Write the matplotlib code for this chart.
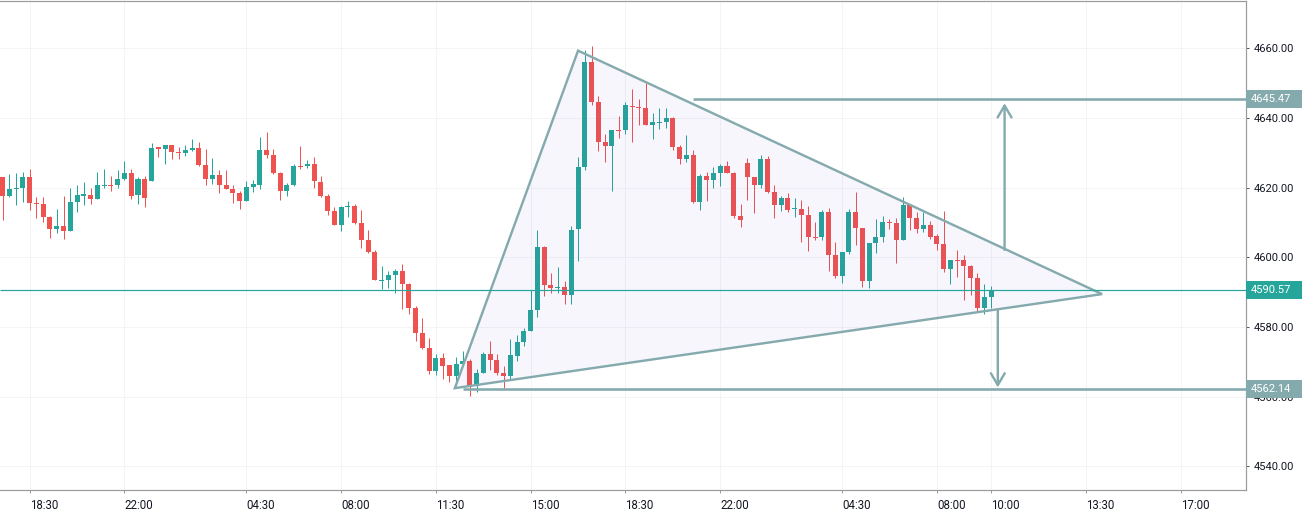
import numpy as np
import matplotlib
matplotlib.use("Agg")
import matplotlib.pyplot as plt
from matplotlib.patches import Polygon, Rectangle

plt.rcParams['font.family'] = ['Roboto', 'DejaVu Sans']

# 15 min candles
opens = [4623.0, 4617.6, 4619.7, 4619.9, 4623.0, 4615.5, 4615.3, 4611.5, 4608.1, 4609.0,
         4607.5, 4615.9, 4617.7, 4617.9, 4616.7, 4620.4, 4620.7, 4620.7, 4622.5, 4624.2,
         4617.9, 4622.5, 4621.9, 4631.4, 4631.1, 4632.2, 4630.2, 4629.9, 4630.8, 4631.4,
         4626.5, 4622.5, 4623.6, 4620.7, 4619.6, 4618.4, 4616.1, 4620.2, 4620.7, 4630.8,
         4629.4, 4624.2, 4619.0, 4620.7, 4626.2, 4626.2, 4626.8, 4621.6, 4617.6, 4613.3,
         4609.2, 4614.5, 4614.7, 4609.8, 4604.9, 4601.5, 4593.2, 4593.4, 4594.9, 4596.0,
         4592.3, 4585.4, 4578.2, 4573.9, 4567.3, 4571.0, 4569.0, 4565.9, 4569.3, 4570.2,
         4563.0, 4566.7, 4572.2, 4570.5, 4566.7, 4565.9, 4571.6, 4575.6, 4578.8, 4584.8,
         4602.9, 4592.0, 4591.2, 4591.4, 4589.1, 4608.1, 4625.9, 4656.1, 4644.6, 4633.1,
         4631.9, 4636.5, 4636.5, 4643.4, 4643.1, 4642.8, 4638.0, 4638.6, 4638.8, 4640.0,
         4631.6, 4628.2, 4629.3, 4615.8, 4623.3, 4622.2, 4624.2, 4626.2, 4624.2, 4611.8,
         4627.0, 4623.0, 4620.7, 4628.2, 4618.7, 4615.0, 4617.0, 4613.7, 4613.8, 4612.1,
         4605.8, 4605.8, 4613.0, 4600.6, 4594.6, 4601.5, 4613.0, 4608.4, 4593.2, 4604.1,
         4605.8, 4610.1, 4609.8, 4604.9, 4615.0, 4611.3, 4608.1, 4609.2, 4606.1, 4603.8,
         4596.6, 4599.2, 4599.2, 4597.5, 4594.0, 4585.4, 4588.6]
highs = [4623.0, 4623.9, 4624.2, 4624.5, 4625.3, 4617.3, 4617.3, 4611.8, 4613.8, 4617.6,
         4619.9, 4620.7, 4621.6, 4619.9, 4624.5, 4625.3, 4623.3, 4625.0, 4627.6, 4625.3,
         4623.0, 4623.3, 4632.8, 4631.4, 4632.2, 4632.2, 4631.7, 4632.2, 4634.0, 4633.1,
         4631.1, 4628.5, 4625.0, 4625.0, 4620.7, 4619.0, 4621.9, 4622.2, 4634.5, 4636.0,
         4631.1, 4624.5, 4621.3, 4626.8, 4631.9, 4627.9, 4628.8, 4623.3, 4618.1, 4614.4,
         4614.7, 4616.1, 4615.3, 4613.5, 4607.8, 4602.1, 4597.5, 4596.0, 4596.6, 4598.0,
         4592.6, 4586.0, 4582.5, 4576.8, 4572.2, 4572.5, 4569.0, 4571.3, 4573.0, 4570.7,
         4567.9, 4572.8, 4575.9, 4572.2, 4568.7, 4576.5, 4577.6, 4579.6, 4590.6, 4607.8,
         4603.2, 4595.4, 4597.2, 4593.1, 4608.9, 4628.8, 4659.5, 4660.6, 4646.3, 4635.4,
         4636.5, 4640.6, 4644.6, 4648.3, 4645.4, 4650.0, 4641.4, 4642.8, 4642.8, 4640.3,
         4632.2, 4635.1, 4630.8, 4623.9, 4624.5, 4625.9, 4626.8, 4627.6, 4624.5, 4615.3,
         4628.5, 4623.0, 4629.3, 4629.1, 4620.7, 4617.6, 4618.4, 4617.0, 4616.4, 4614.7,
         4610.1, 4613.6, 4614.1, 4604.4, 4601.5, 4613.8, 4618.7, 4608.4, 4604.1, 4611.0,
         4611.8, 4611.0, 4611.3, 4617.3, 4615.3, 4613.0, 4613.0, 4610.4, 4606.7, 4613.3,
         4599.2, 4602.1, 4600.6, 4597.8, 4595.5, 4592.3, 4591.7]
lows = [4610.7, 4617.3, 4615.0, 4615.9, 4613.6, 4611.3, 4610.1, 4605.5, 4606.9, 4605.2,
        4607.5, 4613.0, 4615.0, 4615.3, 4616.7, 4619.9, 4619.0, 4619.9, 4622.2, 4616.7,
        4615.3, 4614.4, 4621.9, 4628.8, 4626.8, 4628.2, 4628.2, 4629.1, 4630.5, 4626.2,
        4620.7, 4621.0, 4618.4, 4619.6, 4615.6, 4613.8, 4616.1, 4618.7, 4619.6, 4628.5,
        4623.9, 4616.4, 4617.6, 4620.4, 4625.3, 4625.6, 4619.9, 4617.3, 4612.1, 4609.2,
        4607.5, 4611.5, 4609.5, 4602.6, 4601.2, 4593.4, 4590.9, 4591.1, 4589.7, 4585.1,
        4583.7, 4575.9, 4573.6, 4566.4, 4566.1, 4565.0, 4564.1, 4564.4, 4568.7, 4560.1,
        4561.3, 4566.7, 4567.6, 4566.1, 4562.4, 4565.0, 4570.2, 4574.5, 4578.8, 4582.8,
        4588.8, 4589.7, 4589.7, 4586.5, 4586.5, 4598.9, 4625.0, 4643.7, 4630.5, 4627.3,
        4619.0, 4634.2, 4635.4, 4633.1, 4638.0, 4638.0, 4633.9, 4636.8, 4637.1, 4630.8,
        4626.8, 4627.3, 4615.6, 4613.5, 4616.1, 4619.9, 4620.4, 4624.2, 4611.2, 4608.7,
        4616.4, 4612.7, 4619.9, 4618.4, 4611.3, 4613.3, 4613.0, 4611.5, 4604.4, 4601.8,
        4604.9, 4604.9, 4596.0, 4594.0, 4592.6, 4600.9, 4603.5, 4591.4, 4591.1, 4601.2,
        4604.4, 4608.1, 4598.3, 4604.9, 4607.8, 4606.9, 4607.2, 4605.2, 4602.1, 4595.7,
        4592.3, 4594.3, 4587.7, 4589.1, 4584.5, 4583.7, 4585.4]
closes = [4617.6, 4619.6, 4619.8, 4623.0, 4615.6, 4615.4, 4611.5, 4608.1, 4609.0, 4607.5,
          4615.9, 4617.9, 4617.9, 4616.7, 4620.7, 4620.7, 4620.4, 4622.5, 4624.2, 4617.6,
          4622.5, 4617.0, 4631.4, 4631.2, 4632.2, 4630.2, 4629.9, 4630.8, 4631.4, 4626.5,
          4622.5, 4623.6, 4620.7, 4619.6, 4618.4, 4616.1, 4620.2, 4621.0, 4630.8, 4629.4,
          4624.2, 4619.0, 4620.7, 4626.2, 4625.9, 4626.8, 4621.9, 4617.6, 4613.3, 4609.2,
          4614.4, 4614.6, 4609.8, 4604.9, 4601.5, 4593.4, 4593.3, 4594.9, 4596.0, 4592.3,
          4585.4, 4578.2, 4573.9, 4567.3, 4571.0, 4568.7, 4565.9, 4569.3, 4570.2, 4563.0,
          4566.7, 4572.2, 4570.5, 4566.7, 4565.9, 4571.9, 4575.6, 4578.8, 4584.8, 4602.9,
          4592.0, 4591.1, 4591.4, 4589.1, 4607.8, 4625.9, 4656.1, 4644.6, 4633.1, 4631.9,
          4636.5, 4636.2, 4643.7, 4643.1, 4642.9, 4638.0, 4638.8, 4638.8, 4640.0, 4631.6,
          4628.2, 4629.3, 4615.8, 4623.3, 4622.2, 4624.2, 4626.2, 4624.2, 4611.8, 4610.7,
          4623.0, 4620.7, 4628.2, 4618.7, 4615.0, 4617.0, 4613.6, 4613.8, 4612.1, 4605.8,
          4605.5, 4613.0, 4600.6, 4594.6, 4601.5, 4613.0, 4608.4, 4593.2, 4604.1, 4605.8,
          4610.1, 4609.8, 4604.9, 4615.0, 4611.3, 4608.1, 4609.2, 4605.8, 4603.8, 4596.6,
          4599.2, 4598.9, 4597.5, 4594.0, 4585.4, 4588.6, 4590.6]

time_ticks = [4, 18, 36, 50, 64, 78, 92, 106, 124, 138, 146, 160, 174]
time_labels = ['18:30', '22:00', '04:30', '08:00', '11:30', '15:00', '18:30',
               '22:00', '04:30', '08:00', '10:00', '13:30', '17:00']
price_ticks = [4540, 4560, 4580, 4600, 4620, 4640, 4660]

# drawings on top of the candles
triangle = [(66.8, 4562.4), (85.0, 4659.3), (162.4, 4589.4)]
target_up = 4645.47
target_down = 4562.14
last_price = 4590.57
target_up_start = 102
target_down_start = 68
arrow_up = (148, 4602.1, 4644.2)
arrow_down = (147, 4585.0, 4562.6)

GREEN = '#26a69a'
RED = '#ef5350'
SLATE = '#85aaae'
GRID = '#f4f4f6'
AXIS = '#9b9b9b'
px = 72 / 100  # points per pixel at dpi 100

fig = plt.figure(figsize=(13.02, 5.13), dpi=100)
ax = fig.add_axes([0, 23.5 / 513, 1246 / 1302, 489 / 513])
ax.set_xlim(-0.384, 183.66)
ax.set_ylim(4533.3, 4673.7)

o = np.array(opens)
h = np.array(highs)
l = np.array(lows)
c = np.array(closes)
x = np.arange(len(o))
colors = [GREEN if up else RED for up in c >= o]

ax.vlines(x, l, h, colors=colors, lw=1 * px, zorder=2)
tops = np.maximum(o, c)
bottoms = np.minimum(o, c)
ax.bar(x, np.maximum(tops - bottoms, 0.3), bottom=bottoms, width=0.74, color=colors,
       linewidth=0, zorder=3)

# pattern fill goes over the candles, that is why they look washed out inside
ax.add_patch(Polygon(triangle, closed=True, facecolor='#5b50c8', alpha=0.05,
                     edgecolor='none', zorder=4))
ax.add_patch(Polygon(triangle, closed=True, fill=False, edgecolor=SLATE, lw=2.4 * px,
                     joinstyle='miter', zorder=5))

ax.hlines(last_price, -0.384, 183.66, colors=GREEN, lw=1.2 * px, zorder=5)
ax.hlines(target_up, target_up_start, 183.66, colors=SLATE, lw=2.6 * px, zorder=5)
ax.hlines(target_down, target_down_start, 183.66, colors=SLATE, lw=2.6 * px, zorder=5)

for ax_x, y0, y1 in (arrow_up, arrow_down):
    ax.annotate('', xy=(ax_x, y1), xytext=(ax_x, y0),
                arrowprops=dict(arrowstyle='->,head_length=0.85,head_width=0.5',
                                mutation_scale=10, color=SLATE, lw=2.4 * px,
                                shrinkA=0, shrinkB=0), zorder=6)

ax.set_xticks(time_ticks)
ax.set_xticklabels(time_labels, ha='left')
ax.set_yticks(price_ticks)
ax.set_yticklabels(['%.2f' % p for p in price_ticks])
ax.yaxis.tick_right()
ax.grid(True, color=GRID, lw=1 * px, zorder=0)
ax.set_axisbelow(True)
ax.tick_params(axis='x', length=3 * px, width=1 * px, color=AXIS, labelsize=8.3,
               labelcolor='#131722', pad=4.5)
ax.tick_params(axis='y', length=3 * px, width=1 * px, color='#555555', labelsize=8,
               labelcolor='#131722', pad=3.5)

ax.spines['left'].set_visible(False)
for side in ('top', 'right', 'bottom'):
    ax.spines[side].set_color(AXIS)
    ax.spines[side].set_linewidth(1.2 * px)

# price labels on the scale
for price, col in ((target_up, SLATE), (last_price, GREEN), (target_down, SLATE)):
    ax.add_patch(Rectangle((1, price - 2.6), 56 / 1246, 5.2, transform=ax.get_yaxis_transform(),
                           facecolor=col, edgecolor='none', clip_on=False, zorder=10))
    ax.annotate('%.2f' % price, xy=(1, price), xycoords=ax.get_yaxis_transform(),
                xytext=(4.5 * px, 0), textcoords='offset points', va='center', ha='left',
                color='white', fontsize=8, zorder=11, annotation_clip=False)

fig.savefig('out.png', dpi=100)
